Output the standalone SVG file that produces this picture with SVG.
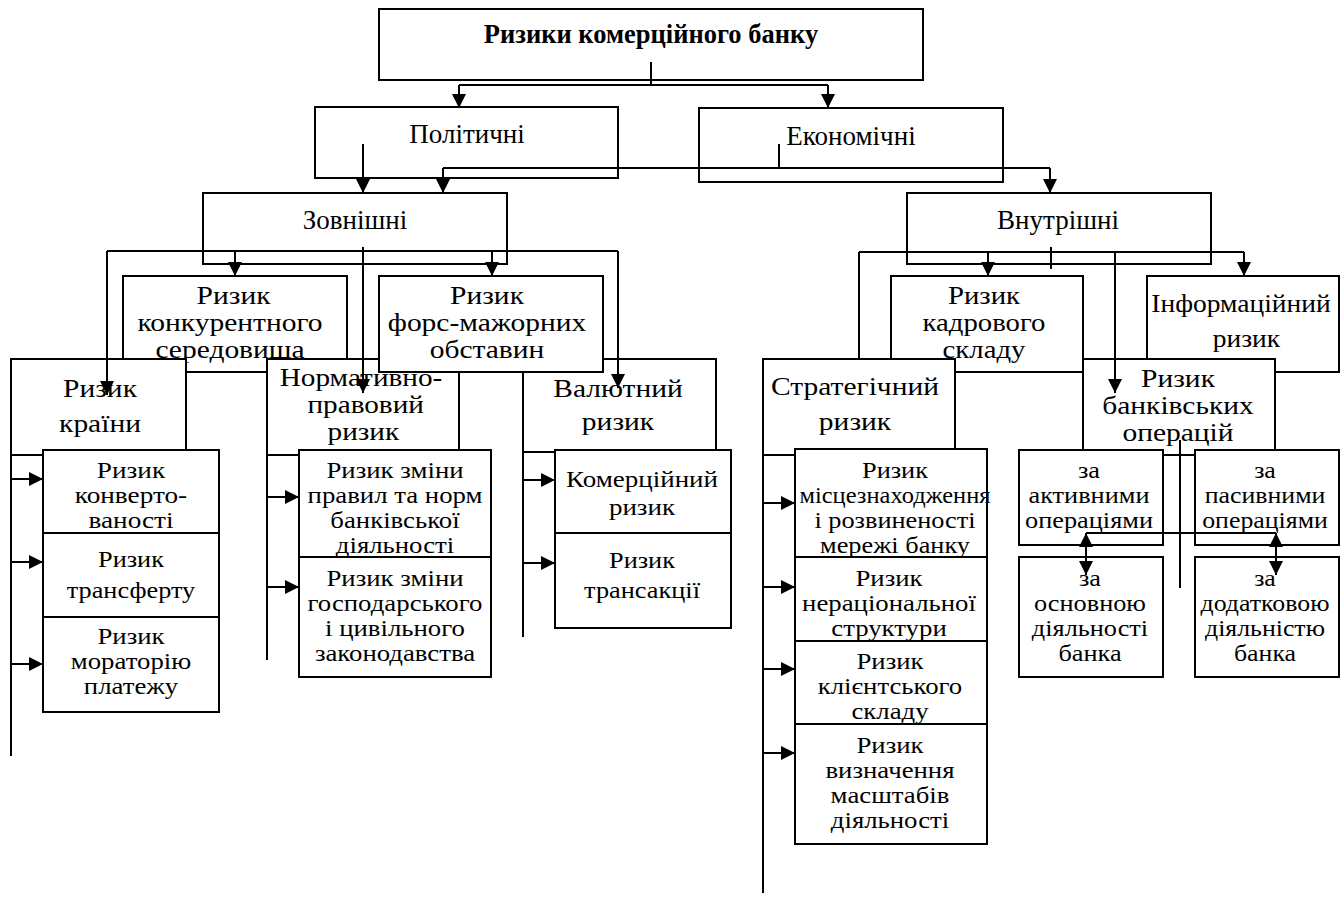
<svg xmlns="http://www.w3.org/2000/svg" width="1340" height="897" viewBox="0 0 1340 897">
<style>
.b{fill:#fff;stroke:#000;stroke-width:2}
text{font-family:"Liberation Serif","Times New Roman",serif;font-size:27px;text-anchor:middle;fill:#000}
.m{font-size:25px}
.s{font-size:23.5px}
.h{font-weight:bold;font-size:26.5px}
.c{fill:none;stroke:#000;stroke-width:2}
.a{fill:none;stroke:#000;stroke-width:2;marker-end:url(#ar)}
.d{fill:none;stroke:#000;stroke-width:2;marker-start:url(#ar);marker-end:url(#ar)}
</style>
<defs>
<marker id="ar" markerUnits="userSpaceOnUse" markerWidth="14" markerHeight="14" refX="14" refY="7" orient="auto-start-reverse" viewBox="0 0 14 14">
<path d="M0,0 L14,7 L0,14 z" fill="#000"/>
</marker>
</defs>
<rect width="1340" height="897" fill="#fff"/>

<g id="root"><rect class="b" x="379" y="9" width="544" height="71"/><text class="h" x="651" y="43">Ризики комерційного банку</text></g>
<g id="politychni"><rect class="b" x="315" y="107" width="303" height="71"/><text x="467" y="143">Політичні</text></g>
<g id="ekonomichni"><rect class="b" x="699" y="108" width="304" height="74"/><text x="851" y="145">Економічні</text></g>
<g id="zovnishni"><rect class="b" x="203" y="193" width="304" height="71"/><text x="355" y="229">Зовнішні</text></g>
<g id="vnutrishni"><rect class="b" x="907" y="193" width="304" height="71"/><text x="1058" y="229">Внутрішні</text></g>

<g id="konkurent"><rect class="b" x="123" y="276" width="224" height="96"/><g transform="translate(230 0) scale(1.18 1)"><text class="m" x="3" y="304">Ризик</text><text class="m" x="0" y="331">конкурентного</text><text class="m" x="0" y="358">середовища</text></g></g>
<g id="kadrovyi"><rect class="b" x="891" y="276" width="192" height="96"/><g transform="translate(984 0) scale(1.15 1)"><text class="m" x="0" y="304">Ризик</text><text class="m" x="0" y="331">кадрового</text><text class="m" x="0" y="358">складу</text></g></g>
<g id="informatsiinyi"><rect class="b" x="1147" y="276" width="192" height="96"/><g transform="translate(1241 0) scale(1.1 1)"><text class="m" x="0" y="312">Інформаційний</text><text class="m" x="5" y="347">ризик</text></g></g>

<g id="krainy"><rect class="b" x="11" y="359" width="175" height="96"/><g transform="translate(100 0) scale(1.18 1)"><text class="m" x="0" y="397">Ризик</text><text class="m" x="0" y="432">країни</text></g></g>
<g id="normatyvno"><rect class="b" x="267" y="359" width="192" height="96"/><g transform="translate(361 0) scale(1.17 1)"><text class="m" x="0" y="386">Нормативно-</text><text class="m" x="4" y="413">правовий</text><text class="m" x="2" y="440">ризик</text></g></g>
<g id="valiutnyi"><rect class="b" x="523" y="359" width="193" height="93"/><g transform="translate(618 0) scale(1.18 1)"><text class="m" x="0" y="397">Валютний</text><text class="m" x="0" y="430">ризик</text></g></g>
<g id="fors-mazhor"><rect class="b" x="379" y="276" width="224" height="96"/><g transform="translate(487 0) scale(1.18 1)"><text class="m" x="0" y="304">Ризик</text><text class="m" x="0" y="331">форс-мажорних</text><text class="m" x="0" y="358">обставин</text></g></g>
<g id="stratehichnyi"><rect class="b" x="763" y="359" width="192" height="96"/><g transform="translate(855 0) scale(1.18 1)"><text class="m" x="0" y="395">Стратегічний</text><text class="m" x="0" y="430">ризик</text></g></g>
<g id="bankivski"><rect class="b" x="1083" y="359" width="192" height="96"/><g transform="translate(1178 0) scale(1.18 1)"><text class="m" x="0" y="387">Ризик</text><text class="m" x="0" y="414">банківських</text><text class="m" x="0" y="441">операцій</text></g></g>

<g id="konvertovanosti"><rect class="b" x="43" y="450" width="176" height="83"/><g transform="translate(131 0) scale(1.16 1)"><text class="s" x="0" y="478">Ризик</text><text class="s" x="0" y="503">конверто-</text><text class="s" x="0" y="528">ваності</text></g></g>
<g id="transfertu"><rect class="b" x="43" y="533" width="176" height="84"/><g transform="translate(131 0) scale(1.12 1)"><text class="s" x="0" y="567">Ризик</text><text class="s" x="0" y="598">трансферту</text></g></g>
<g id="moratoriiu"><rect class="b" x="43" y="617" width="176" height="95"/><g transform="translate(131 0) scale(1.14 1)"><text class="s" x="0" y="644">Ризик</text><text class="s" x="0" y="669">мораторію</text><text class="s" x="0" y="694">платежу</text></g></g>

<g id="zminy-pravyl"><rect class="b" x="299" y="450" width="192" height="107"/><g transform="translate(395 0) scale(1.14 1)"><text class="s" x="0" y="478">Ризик зміни</text><text class="s" x="0" y="503">правил та норм</text><text class="s" x="0" y="528">банківської</text><text class="s" x="0" y="553">діяльності</text></g></g>
<g id="zminy-zakonodavstva"><rect class="b" x="299" y="557" width="192" height="120"/><g transform="translate(395 0) scale(1.14 1)"><text class="s" x="0" y="586">Ризик зміни</text><text class="s" x="0" y="611">господарського</text><text class="s" x="0" y="636">і цивільного</text><text class="s" x="0" y="661">законодавства</text></g></g>

<g id="komertsiinyi"><rect class="b" x="555" y="450" width="176" height="83"/><g transform="translate(642 0) scale(1.15 1)"><text class="s" x="0" y="487">Комерційний</text><text class="s" x="0" y="515">ризик</text></g></g>
<g id="transaktsii"><rect class="b" x="555" y="533" width="176" height="95"/><g transform="translate(642 0) scale(1.12 1)"><text class="s" x="0" y="568">Ризик</text><text class="s" x="0" y="598">трансакції</text></g></g>

<g id="mistseznakhodzhennia"><rect class="b" x="795" y="449" width="192" height="108"/><g transform="translate(895 0) scale(1.12 1)"><text class="s" x="0" y="478">Ризик</text><text class="s" x="0" y="528">і розвиненості</text><text class="s" x="0" y="553">мережі банку</text></g><text class="s" x="895" y="503" transform="translate(-35.8 0) scale(1.04 1)">місцезнаходження</text></g>
<g id="neratsionalnoi"><rect class="b" x="795" y="557" width="192" height="84"/><g transform="translate(889 0) scale(1.14 1)"><text class="s" x="0" y="586">Ризик</text><text class="s" x="0" y="611">нераціональної</text><text class="s" x="0" y="636">структури</text></g></g>
<g id="kliientskoho"><rect class="b" x="795" y="641" width="192" height="83"/><g transform="translate(890 0) scale(1.14 1)"><text class="s" x="0" y="669">Ризик</text><text class="s" x="0" y="694">клієнтського</text><text class="s" x="0" y="719">складу</text></g></g>
<g id="vyznachennia"><rect class="b" x="795" y="724" width="192" height="120"/><g transform="translate(890 0) scale(1.14 1)"><text class="s" x="0" y="753">Ризик</text><text class="s" x="0" y="778">визначення</text><text class="s" x="0" y="803">масштабів</text><text class="s" x="0" y="828">діяльності</text></g></g>

<g id="aktyvnymy"><rect class="b" x="1019" y="450" width="144" height="95"/><g transform="translate(1089 0) scale(1.12 1)"><text class="s" x="0" y="478">за</text><text class="s" x="0" y="503">активними</text><text class="s" x="0" y="528">операціями</text></g></g>
<g id="pasyvnymy"><rect class="b" x="1195" y="450" width="144" height="95"/><g transform="translate(1265 0) scale(1.1 1)"><text class="s" x="0" y="478">за</text><text class="s" x="0" y="503">пасивними</text><text class="s" x="0" y="528">операціями</text></g></g>
<g id="osnovnoiu"><rect class="b" x="1019" y="557" width="144" height="120"/><g transform="translate(1090 0) scale(1.12 1)"><text class="s" x="0" y="586">за</text><text class="s" x="0" y="611">основною</text><text class="s" x="0" y="636">діяльності</text><text class="s" x="0" y="661">банка</text></g></g>
<g id="dodatkovoiu"><rect class="b" x="1195" y="557" width="144" height="120"/><g transform="translate(1265 0) scale(1.1 1)"><text class="s" x="0" y="586">за</text><text class="s" x="0" y="611">додатковою</text><text class="s" x="0" y="636">діяльністю</text><text class="s" x="0" y="661">банка</text></g></g>

<g id="connectors">
<path class="c" d="M651,62 V85 M459,85 H828 M779,144 V168 M443,168 H1050 M107,251 H618 M859,252 H1244 M859,252 V359 M1051,247 V269"/>
<path class="a" d="M459,85 V108"/>
<path class="a" d="M828,85 V108"/>
<path class="a" d="M363,144 V193"/>
<path class="a" d="M443,168 V193"/>
<path class="a" d="M1050,168 V193"/>
<path class="a" d="M363,247 V393"/>
<path class="a" d="M107,251 V395"/>
<path class="a" d="M618,251 V388"/>
<path class="a" d="M235,251 V276"/>
<path class="a" d="M492,251 V276"/>
<path class="a" d="M988,252 V276"/>
<path class="a" d="M1244,252 V276"/>
<path class="a" d="M1115,252 V393"/>
<path class="c" d="M11,455 V756 M267,455 V660 M523,452 V637 M763,455 V893 M1180,440 V588 M1086,533 H1276"/>
<path class="a" d="M11,479 H43"/>
<path class="a" d="M11,562 H43"/>
<path class="a" d="M11,664 H43"/>
<path class="a" d="M267,497 H299"/>
<path class="a" d="M267,587 H299"/>
<path class="a" d="M523,480 H555"/>
<path class="a" d="M523,563 H555"/>
<path class="a" d="M763,503 H795"/>
<path class="a" d="M763,587 H795"/>
<path class="a" d="M763,669 H795"/>
<path class="a" d="M763,753 H795"/>
<path class="d" d="M1086,533 V575"/>
<path class="d" d="M1276,533 V575"/>
</g>
</svg>
